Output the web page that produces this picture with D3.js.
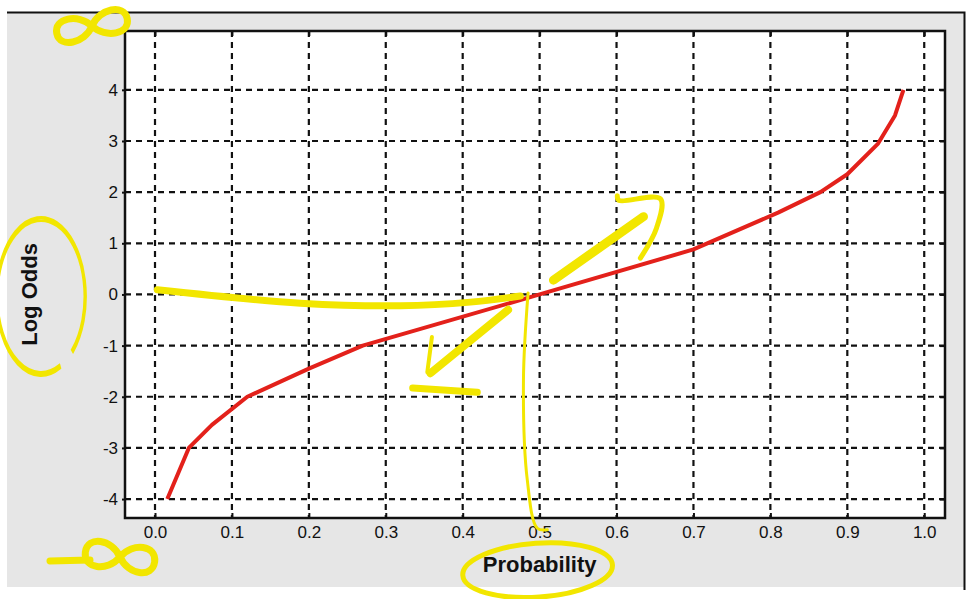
<!DOCTYPE html>
<html>
<head>
<meta charset="utf-8">
<script src="https://cdn.jsdelivr.net/npm/d3@7"></script>
<style>
  body { margin: 0; background: #fff; }
  .chart text { font-family: "Liberation Sans", Arial, Helvetica, sans-serif; fill: #111; }
  .chart .tick-label { font-size: 17px; }
  .axis-title { font-size: 22px; font-weight: bold; }
</style>
</head>
<body>
<div class="chart"></div>
<script>
// Log odds vs probability

// data
var probability = [0.016, 0.044, 0.074, 0.12, 0.2, 0.27, 0.5, 0.7, 0.81, 0.865, 0.9, 0.94, 0.962, 0.973];
var logOdds = [-4, -3, -2.55, -2, -1.45, -1, 0, 0.88, 1.6, 2, 2.35, 2.95, 3.5, 4];

var xTicks = [0, 0.1, 0.2, 0.3, 0.4, 0.5, 0.6, 0.7, 0.8, 0.9, 1.0];
var yTicks = [-4, -3, -2, -1, 0, 1, 2, 3, 4];

// yellow hand annotations, in data units
var zeroStroke = [[0.003, 0.09], [0.189, -0.17], [0.319, -0.22], [0.41, -0.15], [0.475, -0.03]];
var downShaft = [[0.459, -0.30], [0.358, -1.54]];
var downHeadA = [[0.360, -0.83], [0.354, -1.52]];
var downHeadB = [[0.335, -1.83], [0.419, -1.91]];
var upShaft = [[0.518, 0.28], [0.635, 1.52]];
var upHead = [[0.601, 1.93], [0.603, 1.84], [0.657, 1.87], [0.652, 1.30], [0.631, 0.71]];
var halfLine = [[0.485, 0.03], [0.479, -1.67], [0.484, -3.63], [0.497, -4.57], [0.51, -4.6]];

var svgWidth = 974;
var svgHeight = 599;

var margin = {
  top: 31,
  right: 29,
  bottom: 81,
  left: 125
};

var width = svgWidth - margin.left - margin.right;
var height = svgHeight - margin.top - margin.bottom;

var svg = d3
  .select(".chart")
  .append("svg")
  .attr("width", svgWidth)
  .attr("height", svgHeight);

// window frame + grey panel
svg.append("rect")
  .attr("x", 7)
  .attr("y", 12)
  .attr("width", 957)
  .attr("height", 575)
  .attr("fill", "#e6e6e6");

svg.append("path")
  .attr("d", "M7,12.5H964.5V590")
  .attr("fill", "none")
  .attr("stroke", "#111")
  .attr("stroke-width", 2);

var chartGroup = svg.append("g")
  .attr("transform", `translate(${margin.left}, ${margin.top})`);

var xScale = d3.scaleLinear()
  .domain([-0.039, 1.027])
  .range([0, width]);

var yScale = d3.scaleLinear()
  .domain([-4.37, 5.15])
  .range([height, 0]);

chartGroup.append("rect")
  .attr("width", width)
  .attr("height", height)
  .attr("fill", "#fff");

// dashed grid
chartGroup.selectAll(".vgrid")
  .data(xTicks)
  .enter()
  .append("line")
  .attr("class", "vgrid")
  .attr("x1", d => xScale(d))
  .attr("x2", d => xScale(d))
  .attr("y1", 0)
  .attr("y2", height)
  .attr("stroke", "#111")
  .attr("stroke-width", 2.2)
  .attr("stroke-dasharray", "6,5");

chartGroup.selectAll(".hgrid")
  .data(yTicks)
  .enter()
  .append("line")
  .attr("class", "hgrid")
  .attr("x1", 0)
  .attr("x2", width)
  .attr("y1", d => yScale(d))
  .attr("y2", d => yScale(d))
  .attr("stroke", "#111")
  .attr("stroke-width", 2.2)
  .attr("stroke-dasharray", "6,5");

// axes
var bottomAxis = d3.axisBottom(xScale)
  .tickValues(xTicks)
  .tickFormat(d3.format(".1f"))
  .tickSizeInner(-5)
  .tickSizeOuter(0)
  .tickPadding(8);

var leftAxis = d3.axisLeft(yScale)
  .tickValues(yTicks)
  .tickFormat(d => String(d))
  .tickSizeInner(3)
  .tickSizeOuter(0)
  .tickPadding(4);

var topAxis = d3.axisTop(xScale)
  .tickValues(xTicks)
  .tickSizeInner(-5)
  .tickSizeOuter(0)
  .tickFormat("");

var rightAxis = d3.axisRight(yScale)
  .tickValues(yTicks)
  .tickSizeInner(-5)
  .tickSizeOuter(0)
  .tickFormat("");

var xAxis = chartGroup.append("g")
  .attr("transform", `translate(0, ${height})`)
  .call(bottomAxis);

var yAxis = chartGroup.append("g")
  .call(leftAxis);

chartGroup.append("g").call(topAxis);
chartGroup.append("g")
  .attr("transform", `translate(${width}, 0)`)
  .call(rightAxis);

chartGroup.selectAll(".domain").remove();
chartGroup.selectAll(".tick line")
  .attr("stroke", "#111")
  .attr("stroke-width", 2);
chartGroup.selectAll(".tick text")
  .attr("class", "tick-label")
  .attr("font-size", 17)
  .attr("fill", "#111");

// plot border
chartGroup.append("rect")
  .attr("width", width)
  .attr("height", height)
  .attr("fill", "none")
  .attr("stroke", "#111")
  .attr("stroke-width", 2.5);

// axis titles
var xTitle = chartGroup.append("text")
  .attr("class", "axis-title")
  .attr("x", xScale(0.5))
  .attr("y", height + 54)
  .attr("text-anchor", "middle")
  .text("Probability");

var yTitle = chartGroup.append("text")
  .attr("class", "axis-title")
  .attr("transform", "rotate(-90)")
  .attr("x", -yScale(0))
  .attr("y", -88)
  .attr("text-anchor", "middle")
  .text("Log Odds");

// red curve
var curveData = probability.map((p, i) => ({ p: p, v: logOdds[i] }));

var line = d3.line()
  .x(d => xScale(d.p))
  .y(d => yScale(d.v));

chartGroup.append("path")
  .datum(curveData)
  .attr("d", line)
  .attr("fill", "none")
  .attr("stroke", "#e3211b")
  .attr("stroke-width", 4)
  .attr("stroke-linejoin", "round");

// yellow scribbles on top
var yellow = "#f2e600";
var scribble = d3.line()
  .x(d => xScale(d[0]))
  .y(d => yScale(d[1]))
  .curve(d3.curveCatmullRom);

var marks = chartGroup.append("g")
  .attr("fill", "none")
  .attr("stroke", yellow)
  .attr("stroke-linecap", "round")
  .attr("stroke-linejoin", "round");

marks.append("path").attr("d", scribble(zeroStroke)).attr("stroke-width", 7);
marks.append("path").attr("d", scribble(downShaft)).attr("stroke-width", 8);
marks.append("path").attr("d", scribble(downHeadA)).attr("stroke-width", 4);
marks.append("path").attr("d", scribble(downHeadB)).attr("stroke-width", 7);
marks.append("path").attr("d", scribble(upShaft)).attr("stroke-width", 9);
marks.append("path").attr("d", scribble(upHead)).attr("stroke-width", 5);
marks.append("path").attr("d", scribble(halfLine)).attr("stroke-width", 3);

// circles round the titles
var ring = svg.append("g")
  .attr("fill", "none")
  .attr("stroke", yellow)
  .attr("stroke-width", 5);

var arc = d3.arc();
ring.append("path")
  .attr("transform", `translate(${margin.left - 84}, ${margin.top + yScale(0) + 2}) scale(0.57, 1)`)
  .attr("d", arc({ innerRadius: 76, outerRadius: 79, startAngle: 2.7, endAngle: 2.7 + 2 * Math.PI - 0.35 }))
  .attr("stroke-width", 3);

ring.append("ellipse")
  .attr("cx", margin.left + xScale(0.5) - 2)
  .attr("cy", margin.top + height + 52)
  .attr("rx", 75)
  .attr("ry", 27)
  .attr("transform", `rotate(-4, ${margin.left + xScale(0.5)}, ${margin.top + height + 52})`);

// hand drawn infinity sign, centred on 0,0
function infinity(w, h) {
  var p = d3.path();
  p.moveTo(0, 0);
  p.bezierCurveTo(0.15 * w, -0.6 * h, 0.5 * w, -0.6 * h, 0.5 * w, 0);
  p.bezierCurveTo(0.5 * w, 0.6 * h, 0.15 * w, 0.6 * h, 0, 0);
  p.bezierCurveTo(-0.15 * w, -0.6 * h, -0.5 * w, -0.6 * h, -0.5 * w, 0);
  p.bezierCurveTo(-0.5 * w, 0.6 * h, -0.15 * w, 0.6 * h, 0, 0);
  return p.toString();
}

var inf = svg.append("g")
  .attr("fill", "none")
  .attr("stroke", yellow)
  .attr("stroke-width", 7)
  .attr("stroke-linecap", "round");

inf.append("path")
  .attr("transform", "translate(92, 26) rotate(-12)")
  .attr("d", infinity(72, 26));

inf.append("path")
  .attr("transform", "translate(120, 557) rotate(8)")
  .attr("d", infinity(70, 28));

inf.append("path")
  .attr("d", "M50,561L90,560");
</script>
</body>
</html>
